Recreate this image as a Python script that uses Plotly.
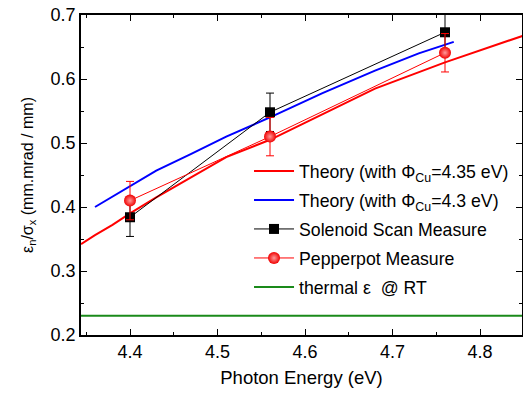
import plotly.graph_objects as go

# Theory curves
th435_x = [4.344, 4.36, 4.38, 4.40, 4.43, 4.47, 4.51, 4.56, 4.62, 4.68, 4.76, 4.85]
th435_y = [0.342, 0.356, 0.372, 0.390, 0.415, 0.447, 0.478, 0.505, 0.545, 0.585, 0.626, 0.668]
th43_x = [4.36, 4.40, 4.43, 4.47, 4.51, 4.56, 4.62, 4.68, 4.73, 4.77]
th43_y = [0.400, 0.432, 0.457, 0.483, 0.510, 0.540, 0.578, 0.613, 0.640, 0.658]

# Measurements
sol_x = [4.40, 4.56, 4.76]
sol_y = [0.384, 0.548, 0.673]
sol_err = [0.030, 0.030, 0.030]
pep_x = [4.40, 4.56, 4.76]
pep_y = [0.410, 0.510, 0.641]
pep_err = [0.030, 0.030, 0.030]

thermal_x = [4.344, 4.85]
thermal_y = [0.230, 0.230]

FONT = "Liberation Sans, Arial, sans-serif"

fig = go.Figure()
fig.add_trace(go.Scatter(x=th435_x, y=th435_y, mode="lines", line=dict(color="#ff0000", width=2),
                         legendgroup="a", name="Theory (with Φ<sub>Cu</sub>=4.35 eV)"))
fig.add_trace(go.Scatter(x=th43_x, y=th43_y, mode="lines", line=dict(color="#0000ff", width=2),
                         legendgroup="b", name="Theory (with Φ<sub>Cu</sub>=4.3 eV)"))
fig.add_trace(go.Scatter(x=sol_x, y=sol_y, mode="lines+markers", line=dict(color="black", width=1),
                         marker=dict(symbol="square", size=10, color="black"),
                         error_y=dict(type="data", array=sol_err, color="black", thickness=1, width=4),
                         legendgroup="c", name="Solenoid Scan Measure"))
fig.add_trace(go.Scatter(x=pep_x, y=pep_y, mode="lines+markers", line=dict(color="#ff0000", width=1),
                         marker=dict(symbol="circle", size=12, color="#f00000",
                                     gradient=dict(type="radial", color="#ff9a9a"),
                                     line=dict(width=0)),
                         error_y=dict(type="data", array=pep_err, color="#ff0000", thickness=1, width=4),
                         legendgroup="d", name="Pepperpot Measure"))
fig.add_trace(go.Scatter(x=thermal_x, y=thermal_y, mode="lines", line=dict(color="#1a8a1a", width=2),
                         legendgroup="e", name="thermal ε  @ RT"))

axis_common = dict(showline=True, linecolor="black", linewidth=1.5, mirror="ticks",
                   ticks="inside", ticklen=6, tickcolor="black", showgrid=False, zeroline=False,
                   automargin=False, ticklabeloverflow="allow",
                   tickfont=dict(family=FONT, size=18, color="black"))

fig.update_xaxes(range=[4.344, 4.848], dtick=0.1, tick0=4.4,
                 minor=dict(ticks="inside", ticklen=3, dtick=0.05, tick0=4.35, tickcolor="black"),
                 title=dict(text="Photon Energy (eV)", font=dict(family=FONT, size=18.5, color="black"), standoff=10),
                 **axis_common)
fig.update_yaxes(range=[0.2, 0.7], dtick=0.1, tick0=0.2,
                 minor=dict(ticks="inside", ticklen=3, dtick=0.05, tick0=0.2, tickcolor="black"),
                 title=dict(text="ε<sub>n</sub>/σ<sub>x</sub> (mm.mrad / mm)", font=dict(family=FONT, size=16, color="black"), standoff=13),
                 **axis_common)

fig.update_layout(width=523, height=394, margin=dict(l=81, r=1, t=15, b=59),
                  plot_bgcolor="white", paper_bgcolor="white",
                  legend=dict(x=0.381, y=0.569, xanchor="left", yanchor="top", bgcolor="rgba(0,0,0,0)",
                              font=dict(family=FONT, size=17.7, color="black"),
                              itemwidth=40, tracegroupgap=3),
                  showlegend=True)

fig.write_html("out.html", config={"displayModeBar": False},
               post_script="document.body.style.margin='0';")
